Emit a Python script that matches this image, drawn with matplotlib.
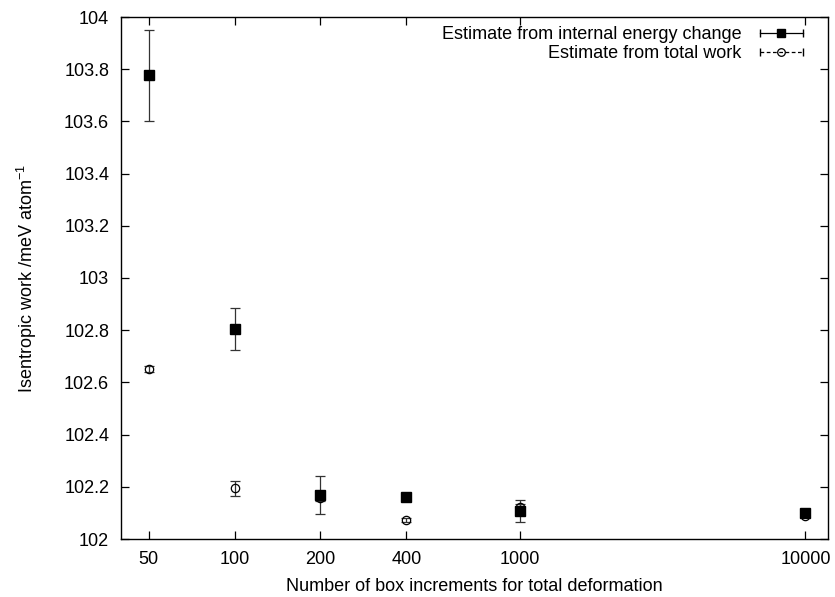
import numpy as np
import matplotlib
matplotlib.use("Agg")
import matplotlib.pyplot as plt
from matplotlib.lines import Line2D
from matplotlib.legend_handler import HandlerLine2D, HandlerTuple
from matplotlib.ticker import FixedLocator, FixedFormatter, NullLocator

# data
increments = [50, 100, 200, 400, 1000, 10000]
energy_change = [103.776, 102.805, 102.167, 102.161, 102.107, 102.098]
energy_change_err = [0.175, 0.080, 0.073, 0.008, 0.043, 0.008]
total_work = [102.651, 102.194, 102.156, 102.072, 102.124, 102.089]
total_work_err = [0.010, 0.028, 0.012, 0.008, 0.010, 0.006]

xtick_labels = ["50", "100", "200", "400", "1000", "10000"]

plt.rcParams['font.family'] = ['Liberation Sans', 'DejaVu Sans']
plt.rcParams['font.size'] = 13

fig = plt.figure(figsize=(8.35, 5.97), dpi=100)
ax = fig.add_axes([121/835, 1 - 539/597, (828 - 121)/835, (539 - 17)/597])

ax.errorbar(increments, energy_change, yerr=energy_change_err,
            fmt='s', color='black', ms=6.7, ecolor='#333333', elinewidth=0.9,
            capsize=3.3, capthick=0.9)
ax.errorbar(increments, total_work, yerr=total_work_err,
            fmt='o', color='black', mfc='none', mec='black', mew=0.9, ms=6.0,
            ecolor='#333333', elinewidth=0.9, capsize=3.3, capthick=0.9)

ax.set_xscale('log')
ax.set_xlim(40, 12000)
ax.set_ylim(102, 104)
ax.xaxis.set_major_locator(FixedLocator(increments))
ax.xaxis.set_major_formatter(FixedFormatter(xtick_labels))
ax.xaxis.set_minor_locator(NullLocator())
ax.set_yticks(np.arange(102, 104.01, 0.2))
ax.set_yticklabels(["102", "102.2", "102.4", "102.6", "102.8", "103",
                    "103.2", "103.4", "103.6", "103.8", "104"])

ax.tick_params(which='both', direction='in', top=True, right=True,
               length=5.8, width=0.9, pad=8.5, labelsize=13)
for sp in ax.spines.values():
    sp.set_linewidth(1.0)

ax.set_xlabel("Number of box increments for total deformation", labelpad=7)
ax.set_ylabel(r"Isentropic work /meV atom$^{\mathregular{-1}}$", labelpad=18)

# legend handles in gnuplot style: line with end caps, symbol in the middle
cap1 = Line2D([], [], color='black', lw=0.9, marker='|', ms=6)
sq = Line2D([], [], color='black', ls='none', marker='s', ms=5.5)
cap2 = Line2D([], [], color='black', lw=0.9, ls=(0, (3, 2)), marker='|', ms=6)
ci = Line2D([], [], color='black', ls='none', marker='o', mfc='none', ms=5.5, mew=0.9)

leg = ax.legend([(cap1, sq), (cap2, ci)],
                ["Estimate from internal energy change", "Estimate from total work"],
                loc='upper right', markerfirst=False, frameon=False,
                handlelength=3.0, handletextpad=0.7, labelspacing=0.1,
                borderaxespad=0.1, borderpad=0.4, numpoints=2,
                bbox_to_anchor=(0.985, 1.0),
                handler_map={tuple: HandlerTuple(ndivide=1, pad=0),
                             sq: HandlerLine2D(numpoints=1),
                             ci: HandlerLine2D(numpoints=1)})

fig.savefig("out.png", dpi=100)
